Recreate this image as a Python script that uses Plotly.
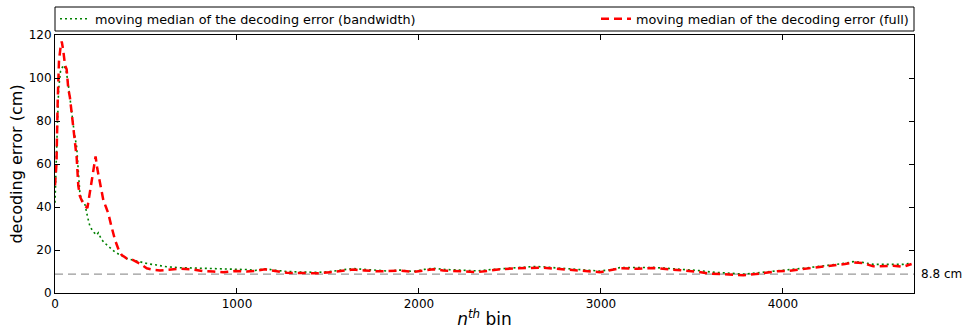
import plotly.graph_objects as go

# moving median of the decoding error, bandwidth-limited decoder
bw_bin = [0, 6, 12, 20, 30, 46, 60, 73, 82, 92, 105, 119, 128, 137, 150, 165, 180, 192, 210, 229,
          238, 255, 270, 284, 310, 330, 357, 395, 430, 470, 510, 559, 614, 687, 750, 797, 870, 940,
          1000, 1053, 1100, 1154, 1210, 1273, 1340, 1401, 1450, 1511, 1580, 1639, 1700, 1767, 1830,
          1896, 1969, 2030, 2079, 2133, 2220, 2317, 2380, 2445, 2540, 2628, 2683, 2750, 2811, 2900,
          2994, 3050, 3104, 3200, 3287, 3380, 3471, 3540, 3599, 3700, 3782, 3850, 3910, 3970, 4038,
          4120, 4203, 4276, 4340, 4386, 4441, 4496, 4550, 4606, 4661, 4707]
bw_err = [42, 55, 75, 95, 103, 106, 104, 97, 90, 82, 75, 68, 55, 46, 43, 41, 35, 31, 28.5, 27,
          28, 25, 23.5, 22.3, 20.5, 19, 17.7, 16, 15.3, 14.5, 13.6, 13, 12.2, 11.8, 11.7, 11.4, 11.3, 11.1,
          11.3, 10.9, 10.5, 11.3, 10.6, 10, 9.8, 9.8, 9.6, 10, 10.6, 11.4, 11, 10.6, 10.2,
          10.7, 10, 11, 11.5, 11, 10.8, 10.3, 10.8, 11.3, 11.8, 12.3, 12.2, 11.7, 11.2, 10.8,
          10.2, 10.8, 11.8, 11.8, 11.9, 11.4, 10.9, 10.4, 9.8, 9.2, 8.8, 9.3, 9.9, 10.4, 10.9,
          11.6, 12.4, 13.0, 13.8, 14.6, 14.2, 13.3, 13.3, 13.2, 13.3, 14.0]

# moving median of the decoding error, full decoder
full_bin = [0, 8, 15, 22, 30, 37, 45, 55, 64, 73, 82, 95, 108, 119, 128, 137, 147, 160, 178, 192,
            205, 215, 223, 232, 238, 250, 266, 280, 293, 310, 330, 350, 366, 395, 430, 470, 504, 540,
            577, 620, 687, 750, 815, 870, 925, 990, 1053, 1100, 1154, 1210, 1273, 1340, 1401, 1450,
            1511, 1580, 1639, 1700, 1767, 1830, 1896, 1969, 2030, 2079, 2133, 2220, 2317, 2380, 2445,
            2540, 2628, 2683, 2750, 2811, 2900, 2994, 3050, 3104, 3200, 3287, 3380, 3471, 3540, 3599,
            3700, 3782, 3850, 3910, 3970, 4038, 4120, 4203, 4276, 4340, 4386, 4441, 4496, 4550, 4606,
            4661, 4707]
full_err = [50, 60, 90, 108, 114, 117, 113, 106, 104, 95, 91, 80, 70, 63, 50, 45, 43, 41, 39.5, 47,
            55, 60, 63.5, 58, 55, 49, 43, 40, 37, 31, 24.6, 20, 17.7, 16, 15.3, 13.5, 11.5, 10.8,
            10.5, 10.8, 11.3, 11, 10.2, 10, 9.6, 10.2, 10, 10.3, 11, 10.2, 9.4, 9.3, 9.1, 9.2,
            9.7, 10.2, 10.9, 10.5, 10.1, 10.2, 10.4, 9.8, 10.6, 11.1, 10.5, 10.2, 9.7, 10.3, 11.1,
            11.5, 11.9, 11.8, 11.3, 10.8, 10.3, 9.7, 10.6, 11.5, 11.3, 11.6, 11.0, 10.4, 9.8, 9.0,
            8.6, 8.3, 8.8, 9.6, 10.1, 10.4, 11.2, 12.0, 12.6, 13.5, 14.2, 13.9, 12.4, 12.6, 12.7,
            12.2, 13.5]

reference_err = 8.8
x_ticks = [0, 1000, 2000, 3000, 4000]
y_ticks = [0, 20, 40, 60, 80, 100, 120]

FONT = "DejaVu Sans"

fig = go.Figure()
fig.add_trace(go.Scatter(
    x=bw_bin, y=bw_err, mode="lines",
    name="moving median of the decoding error (bandwidth)",
    line=dict(color="#008000", width=1.6, dash="2px,3px"),
    legend="legend",
))
fig.add_trace(go.Scatter(
    x=full_bin, y=full_err, mode="lines",
    name="moving median of the decoding error (full)",
    line=dict(color="#ff0000", width=2.5, dash="8px,5px"),
    legend="legend2",
))

# reference level
fig.add_shape(type="line", xref="paper", yref="y", x0=0, x1=1,
              y0=reference_err, y1=reference_err,
              line=dict(color="#999999", width=1.3, dash="8px,5px"), layer="below")
fig.add_annotation(xref="paper", yref="y", x=1.006, y=reference_err,
                   text=f"{reference_err} cm", showarrow=False, xanchor="left",
                   font=dict(family=FONT, size=12, color="black"))

# legend frame spanning the plot width
fig.add_shape(type="rect", xref="paper", yref="paper", x0=0, x1=1, y0=1.0155, y1=1.1085,
              line=dict(color="black", width=1), fillcolor="white", layer="below")

axis_common = dict(
    showgrid=False, zeroline=False, showline=True, linecolor="black", linewidth=1,
    mirror="allticks", ticks="inside", ticklen=5, tickwidth=1, tickcolor="black",
    tickfont=dict(family=FONT, size=12, color="black"),
)

legend_common = dict(
    orientation="h", y=1.062, yanchor="middle",
    bgcolor="rgba(0,0,0,0)", borderwidth=0,
    font=dict(family=FONT, size=12.8, color="black"),
    itemwidth=30,
)

fig.update_layout(
    width=966, height=333,
    margin=dict(l=55, r=52, t=35, b=40, autoexpand=False),
    plot_bgcolor="white", paper_bgcolor="white",
    font=dict(family=FONT, color="black"),
    showlegend=True,
    legend=dict(x=0.0, xanchor="left", **legend_common),
    legend2=dict(x=1.0, xanchor="right", **legend_common),
    xaxis=dict(range=[0, 4720], tickvals=x_ticks,
               title=dict(text="<i>n</i><sup><i>th</i></sup> bin",
                          font=dict(family=FONT, size=17), standoff=2),
               **axis_common),
    yaxis=dict(range=[0, 120], tickvals=y_ticks,
               title=dict(text="decoding error (cm)", font=dict(family=FONT, size=16), standoff=2),
               **axis_common),
)

fig.write_html("out.html")
